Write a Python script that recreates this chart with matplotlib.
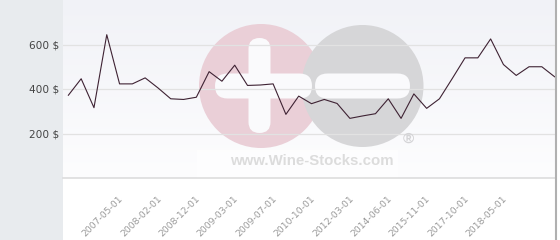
import matplotlib
matplotlib.use('Agg')
import matplotlib.pyplot as plt
import numpy as np
from matplotlib.patches import Circle, FancyBboxPatch, Rectangle
from matplotlib.transforms import ScaledTranslation

# Price series (one point per category, in $)
prices = [372, 446, 316, 644, 423, 423, 450, 405, 356, 353,
          363, 478, 435, 507, 416, 418, 423, 286, 368, 334,
          353, 335, 268, 279, 289, 356, 268, 378, 313, 356,
          447, 540, 540, 625, 510, 461, 500, 500, 455]

# Category labels that are shown on the x axis, and their indices
tick_idx = [4, 7, 10, 13, 16, 19, 22, 25, 28, 31, 34]
tick_labels = ['2007-05-01', '2008-02-01', '2008-12-01', '2009-03-01',
               '2009-07-01', '2010-10-01', '2012-03-01', '2014-06-01',
               '2015-11-01', '2017-10-01', '2018-05-01']

y_ticks = [200, 400, 600]
y_tick_labels = ['200 $', '400 $', '600 $']

W, H = 560, 240
fig = plt.figure(figsize=(W / 100, H / 100), dpi=100)
fig.patch.set_facecolor('white')

# grey panel on the left (behind the axes so tick labels stay visible)
fig.patches.append(Rectangle((0, 0), 63 / W, 1, transform=fig.transFigure,
                             facecolor='#e8ebee', edgecolor='none', zorder=-1))

ax = fig.add_axes([63 / W, 62 / H, 492 / W, 178 / H])
ax.set_facecolor('none')

x = np.arange(len(prices))

# vertical gradient background of the plot area
grad = np.linspace(0, 1, 256).reshape(-1, 1)
top = np.array([241, 242, 247]) / 255
bot = np.array([253, 253, 254]) / 255
img = top * (1 - grad[..., None]) + bot * grad[..., None]
img = img.reshape(256, 1, 3)
ax.imshow(img, extent=[0, 1, 0, 1], transform=ax.transAxes, aspect='auto',
          zorder=0, origin='upper')

# watermark (pixel coordinates of the figure, y measured from top)
t = fig.dpi_scale_trans
def px(xp, yp):
    return xp / 100, (H - yp) / 100

ax.add_patch(Rectangle(px(197, 178), 201 / 100, 28 / 100, transform=t,
                       facecolor='white', edgecolor='none', alpha=0.6,
                       zorder=1, clip_on=False))
ax.add_patch(Circle(px(261, 86), 0.62, transform=t, facecolor='#eacfd7',
                    edgecolor='none', zorder=1, clip_on=False))
ax.add_patch(Circle(px(362.5, 86), 0.61, transform=t, facecolor='#d6d6d8',
                    edgecolor='none', zorder=1.1, clip_on=False))
ax.add_patch(FancyBboxPatch(px(248.5, 133), 0.22, 0.95,
                            boxstyle='round,pad=0,rounding_size=0.11',
                            transform=t, facecolor='#fafafc', edgecolor='none',
                            zorder=1.2, clip_on=False))
ax.add_patch(FancyBboxPatch(px(215, 98.5), 0.97, 0.25,
                            boxstyle='round,pad=0,rounding_size=0.125',
                            transform=t, facecolor='#fafafc', edgecolor='none',
                            zorder=1.2, clip_on=False))
ax.add_patch(FancyBboxPatch(px(315, 98.5), 0.95, 0.25,
                            boxstyle='round,pad=0,rounding_size=0.125',
                            transform=t, facecolor='#fafafc', edgecolor='none',
                            zorder=1.2, clip_on=False))
fig.text(312 / W, 1 - 161 / H, 'www.Wine-Stocks.com', ha='center', va='center',
         fontsize=10.8, fontweight='bold', family='Liberation Sans',
         color='#dcdcdc', zorder=2)
fig.text(408 / W, 1 - 139 / H, '\u00ae', ha='center', va='center',
         fontsize=11, fontweight='bold', family='Liberation Sans',
         color='#d4d4d6', zorder=2)

# grid
for v in y_ticks:
    ax.axhline(v, color='#e2e2e2', linewidth=0.9, zorder=2)
ax.axhline(0, color='#dadada', linewidth=1.1, zorder=2, clip_on=False)

# the series
ax.plot(x, prices, color='#3e2233', linewidth=0.8, zorder=5, clip_on=False)

ax.set_xlim(-0.42, 38.03)
ax.set_ylim(0, 800)

for s in ax.spines.values():
    s.set_visible(False)

# right border line
fig.add_artist(plt.Line2D([556 / W, 556 / W], [0, 1], transform=fig.transFigure,
                          color='#b0b0b0', linewidth=1.5))

ax.set_yticks(y_ticks)
ax.set_yticklabels(y_tick_labels)
ax.tick_params(axis='y', length=0, pad=3, labelsize=7.6, labelcolor='#444444')

ax.set_xticks(tick_idx)
ax.set_xticklabels(tick_labels, rotation=45, ha='right', va='top')
ax.tick_params(axis='x', length=0, pad=11.5, labelsize=6.7, labelcolor='#9a9a9a')
shift = ScaledTranslation(5.5 / 100, 0, fig.dpi_scale_trans)
for lab in ax.get_xticklabels():
    lab.set_transform(lab.get_transform() + shift)

fig.savefig('out.png', dpi=100)
